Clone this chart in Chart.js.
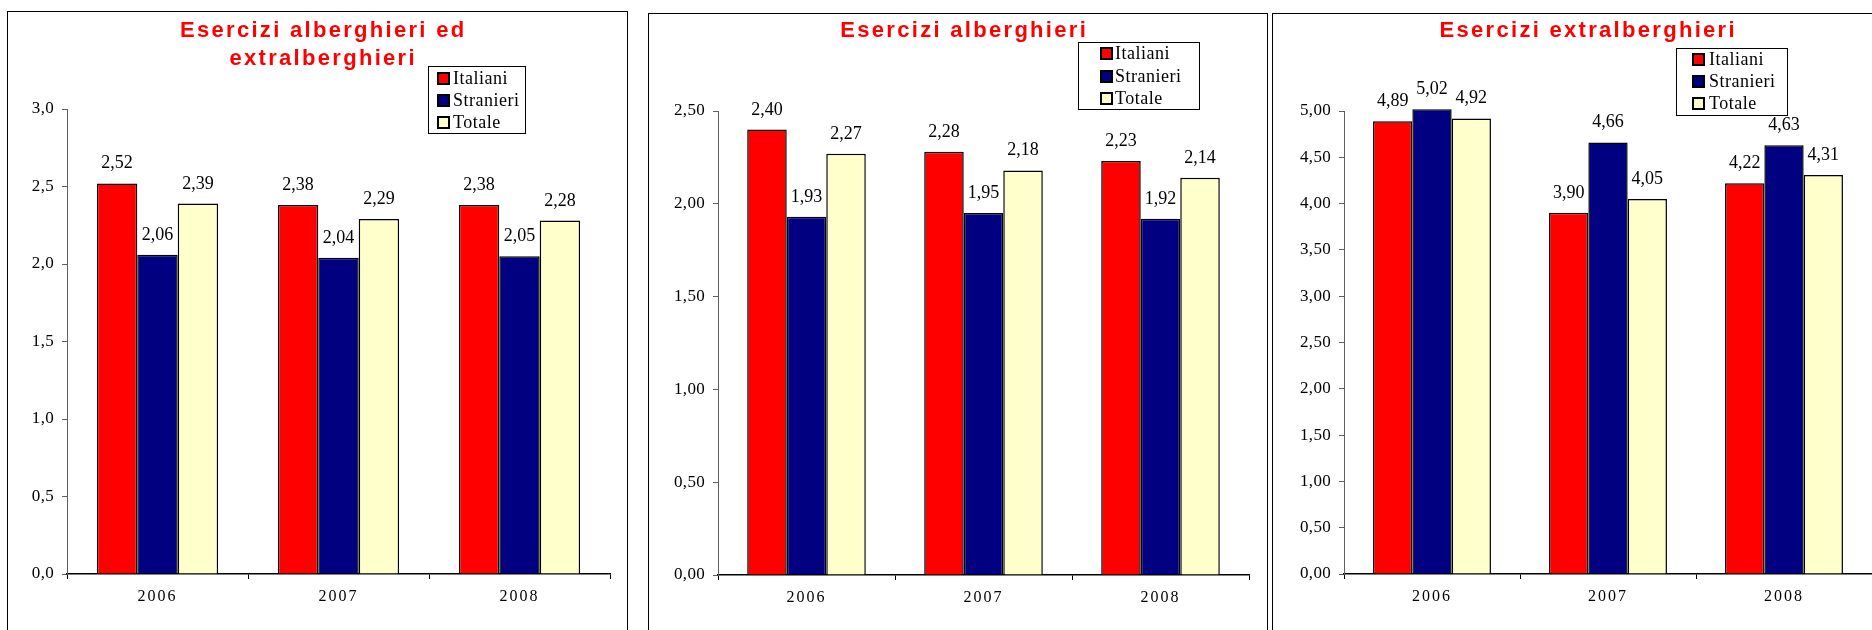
<!DOCTYPE html>
<html>
<head>
<meta charset="utf-8">
<script src="https://cdn.jsdelivr.net/npm/chart.js@4.4.1/dist/chart.umd.min.js"></script>
<style>
html,body{margin:0;padding:0;background:#fff;width:1872px;height:630px;overflow:hidden;position:relative}
.panel{position:absolute;border:1px solid #000;background:#fff;box-sizing:border-box;overflow:hidden}
.panel canvas{position:absolute;left:0;top:0}
</style>
</head>
<body>
<div class="panel" id="p1" style="left:7px;top:11px;width:621px;height:660px"><canvas id="c1"></canvas></div>
<div class="panel" id="p2" style="left:648px;top:13px;width:620px;height:660px"><canvas id="c2"></canvas></div>
<div class="panel" id="p3" style="left:1272px;top:13px;width:622px;height:660px"><canvas id="c3"></canvas></div>
<script>
// ---------- DATA ----------
const categories = ['2006', '2007', '2008'];
const seriesNames = ['Italiani', 'Stranieri', 'Totale'];
const seriesColors = ['#FF0000', '#000080', '#FFFFCC'];

// Esercizi alberghieri ed extralberghieri
const title1 = ['Esercizi alberghieri ed', 'extralberghieri'];
const italiani1 = [2.52, 2.38, 2.38];
const stranieri1 = [2.06, 2.04, 2.05];
const totale1 = [2.39, 2.29, 2.28];
const yMax1 = 3.0;
const yDecimals1 = 1;

// Esercizi alberghieri
const title2 = ['Esercizi alberghieri'];
const italiani2 = [2.40, 2.28, 2.23];
const stranieri2 = [1.93, 1.95, 1.92];
const totale2 = [2.27, 2.18, 2.14];
const yMax2 = 2.5;
const yDecimals2 = 2;

// Esercizi extralberghieri
const title3 = ['Esercizi extralberghieri'];
const italiani3 = [4.89, 3.90, 4.22];
const stranieri3 = [5.02, 4.66, 4.63];
const totale3 = [4.92, 4.05, 4.31];
const yMax3 = 5.0;
const yDecimals3 = 2;

const yStep = 0.5;
const labelDecimals = 2;

// ---------- HELPERS ----------
function fmt(v, d) { return Number(v).toFixed(d).replace('.', ','); }

const decor = {
  id: 'decor',
  beforeDraw(chart) {
    chart.ctx.letterSpacing = '0.3px';
  },
  afterDatasetsDraw(chart, args, o) {
    const ctx = chart.ctx;
    ctx.save();
    ctx.font = '18px "Liberation Serif"';
    ctx.letterSpacing = '0px';
    ctx.fillStyle = '#000';
    ctx.textAlign = 'center';
    ctx.textBaseline = 'alphabetic';
    chart.data.datasets.forEach((ds, i) => {
      const meta = chart.getDatasetMeta(i);
      meta.data.forEach((el, j) => {
        ctx.fillText(fmt(ds.data[j], labelDecimals), el.x, el.y - o.labelGap);
      });
    });
    ctx.restore();
    // letter spacing for the category labels drawn afterwards (ticks z = 1)
    ctx.letterSpacing = '2px';
  },
  afterDraw(chart, args, o) {
    const ctx = chart.ctx;
    ctx.save();
    // title
    ctx.font = 'bold 22px "Liberation Sans"';
    ctx.letterSpacing = '2.3px';
    ctx.fillStyle = '#FF0000';
    ctx.textAlign = 'center';
    ctx.textBaseline = 'alphabetic';
    o.title.forEach((line, k) => ctx.fillText(line, o.titleX + 1.2, o.titleY + k * 28));
    // legend
    const L = o.legend;
    ctx.fillStyle = '#fff';
    ctx.fillRect(L.x, L.y, L.w, L.h);
    ctx.strokeStyle = '#000';
    ctx.lineWidth = 1;
    ctx.strokeRect(L.x + 0.5, L.y + 0.5, L.w - 1, L.h - 1);
    ctx.font = '18px "Liberation Serif"';
    ctx.letterSpacing = '0.5px';
    ctx.textAlign = 'left';
    ctx.textBaseline = 'middle';
    chart.data.datasets.forEach((ds, i) => {
      const cy = Math.round(L.y + L.rowStart + i * L.rowGap);
      const mx = L.x + L.mx;
      ctx.fillStyle = ds.backgroundColor;
      ctx.fillRect(mx, cy - 6, 13, 13);
      ctx.strokeStyle = '#000';
      ctx.lineWidth = 2;
      ctx.strokeRect(mx + 1, cy - 5, 11, 11);
      ctx.fillStyle = '#000';
      ctx.fillText(ds.label, L.x + L.tx, cy + 1);
    });
    ctx.restore();
  }
};

function makeChart(canvasId, series, yMax, yDec, g) {
  const canvas = document.getElementById(canvasId);
  canvas.width = g.cw; canvas.height = g.ch;
  canvas.style.width = g.cw + 'px'; canvas.style.height = g.ch + 'px';
  const ox = g.ox, oy = g.oy;
  return new Chart(canvas, {
    type: 'bar',
    data: {
      labels: categories,
      datasets: series.map((vals, i) => ({
        label: seriesNames[i],
        data: vals,
        backgroundColor: seriesColors[i],
        borderColor: '#000',
        borderWidth: 1.5,
        categoryPercentage: 0.67,
        barPercentage: 1.0
      }))
    },
    options: {
      responsive: false,
      animation: false,
      devicePixelRatio: 1,
      clip: false,
      events: [],
      layout: { padding: { left: 0, right: g.padR, top: g.padT, bottom: g.padB } },
      plugins: {
        legend: { display: false },
        tooltip: { enabled: false },
        title: { display: false },
        decor: {
          labelGap: 15,
          title: g.title,
          titleX: g.titleX - ox,
          titleY: g.titleY - oy,
          legend: {
            x: g.lg.x - ox, y: g.lg.y - oy, w: g.lg.w, h: g.lg.h,
            mx: g.lg.mx, tx: g.lg.tx, rowStart: g.lg.rs, rowGap: g.lg.rg
          }
        }
      },
      scales: {
        x: {
          grid: { display: true, drawOnChartArea: false, drawTicks: true, tickLength: 5, color: '#000', offset: true },
          border: { color: '#000', width: 1.5 },
          ticks: { font: { family: 'Liberation Serif', size: 16 }, color: '#000', padding: 8, z: 1, maxRotation: 0 },
          afterFit(s) { s.height = g.xH; }
        },
        y: {
          min: 0, max: yMax,
          ticks: { stepSize: yStep, callback: v => fmt(v, yDec), font: { family: 'Liberation Serif', size: 17 }, color: '#000', padding: 8 },
          grid: { display: true, drawOnChartArea: false, drawTicks: true, tickLength: 5, color: '#606060' },
          border: { color: '#606060', width: 1 },
          afterFit(s) { s.width = g.yW; }
        }
      }
    },
    plugins: [decor]
  });
}

makeChart('c1', [italiani1, stranieri1, totale1], yMax1, yDecimals1, {
  ox: 8, oy: 12, cw: 619, ch: 620, yW: 59, padR: 17, padT: 97, padB: 18, xH: 40,
  title: title1, titleX: 322, titleY: 37,
  lg: { x: 428, y: 66, w: 98, h: 68, mx: 9, tx: 25, rs: 12, rg: 22 }
});
makeChart('c2', [italiani2, stranieri2, totale2], yMax2, yDecimals2, {
  ox: 649, oy: 14, cw: 618, ch: 620, yW: 69, padR: 18, padT: 97, padB: 19, xH: 40,
  title: title2, titleX: 963, titleY: 37,
  lg: { x: 1078, y: 42, w: 122, h: 68, mx: 22, tx: 37, rs: 11, rg: 22.5 }
});
makeChart('c3', [italiani3, stranieri3, totale3], yMax3, yDecimals3, {
  ox: 1273, oy: 14, cw: 620, ch: 620, yW: 71, padR: 21, padT: 97, padB: 20, xH: 40,
  title: title3, titleX: 1587, titleY: 37,
  lg: { x: 1676, y: 48, w: 112, h: 68, mx: 16, tx: 33, rs: 11, rg: 22 }
});
</script>
</body>
</html>
